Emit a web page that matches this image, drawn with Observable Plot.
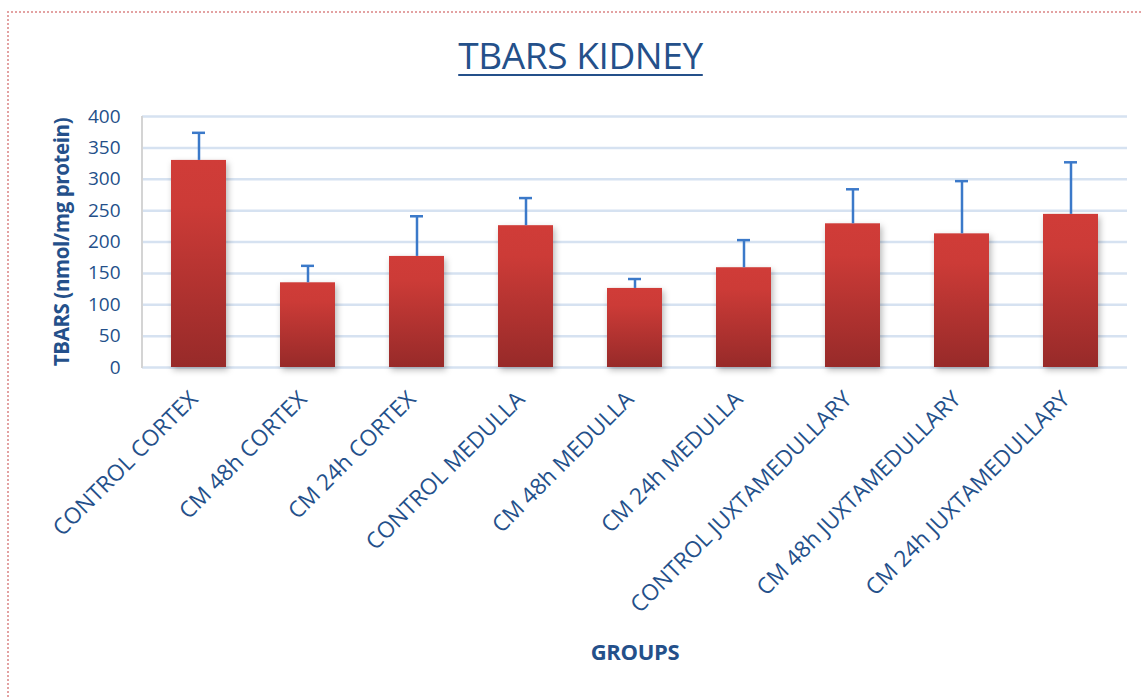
<!DOCTYPE html>
<html>
<head>
<meta charset="utf-8">
<script src="https://cdn.jsdelivr.net/npm/d3@7"></script>
<script src="https://cdn.jsdelivr.net/npm/@observablehq/plot@0.6"></script>
<style>
  body { margin: 0; background: #fff; }
  #wrap { position: relative; width: 1143px; height: 697px; overflow: hidden; font-family: "Open Sans", sans-serif; }
  #border { position: absolute; left: 7px; top: 11px; width: 1200px; height: 800px;
            border-top: 2px dotted #e3a2a2; border-left: 2px dotted #e3a2a2; }
  #title { position: absolute; left: 0; top: 0; width: 1143px; height: 100px; text-align: center; }
  #title span { position: absolute; left: 18px; right: 0; top: 33px; font-size: 37px; line-height: 1.2; color: #24508a;
                text-decoration: underline; text-decoration-thickness: 2px; text-underline-offset: 5px; letter-spacing: -0.4px; }
  #chart { position: absolute; left: 0; top: 100px; }
  g[aria-label="bar"] rect { filter: drop-shadow(2px 3px 3px rgba(0,0,0,0.28)); }
</style>
</head>
<body>
<div id="wrap">
  <div id="border"></div>
  <div id="title"><span>TBARS KIDNEY</span></div>
  <div id="chart"></div>
</div>
<script>
const groups = ["CONTROL CORTEX", "CM 48h CORTEX", "CM 24h CORTEX", "CONTROL MEDULLA", "CM 48h MEDULLA",
                "CM 24h MEDULLA", "CONTROL JUXTAMEDULLARY", "CM 48h JUXTAMEDULLARY", "CM 24h JUXTAMEDULLARY"];
const means = [330, 135, 177, 226, 126, 159, 229, 213, 244];
const errors = [44, 27, 64, 44, 15, 44, 55, 84, 83];
const yTicks = [0, 50, 100, 150, 200, 250, 300, 350, 400];

const data = groups.map((g, i) => ({group: g, mean: means[i], err: errors[i], top: means[i] + errors[i]}));

const textColor = "#24508a";

function decor(index, scales, values, dimensions) {
  const g = d3.create("svg:g");
  const defs = g.append("defs");
  const grad = defs.append("linearGradient").attr("id", "barGrad")
    .attr("x1", 0).attr("y1", 0).attr("x2", 0).attr("y2", 1);
  grad.append("stop").attr("offset", "0%").attr("stop-color", "#d03c38");
  grad.append("stop").attr("offset", "22%").attr("stop-color", "#cc3b37");
  grad.append("stop").attr("offset", "100%").attr("stop-color", "#972a29");
  const {marginLeft, marginTop, height, marginBottom} = dimensions;
  g.append("line")
    .attr("x1", marginLeft).attr("x2", marginLeft)
    .attr("y1", marginTop).attr("y2", height - marginBottom + 1)
    .attr("stroke", "#d4d4d4").attr("stroke-width", 2);
  return g.node();
}

const chart = Plot.plot({
  width: 1143,
  height: 597,
  marginLeft: 142,
  marginRight: 16,
  marginTop: 16,
  marginBottom: 330,
  style: {fontFamily: "Open Sans, sans-serif", color: textColor, background: "transparent", overflow: "visible"},
  x: {domain: groups, paddingInner: 0.5, paddingOuter: 0.25},
  y: {domain: [0, 400]},
  marks: [
    Plot.gridY(yTicks, {stroke: "#d6e2f1", strokeOpacity: 1, strokeWidth: 2.5}),
    decor,
    Plot.barY(data, {x: "group", y: "mean", fill: "url(#barGrad)"}),
    Plot.ruleX(data, {x: "group", y1: "mean", y2: "top", stroke: "#3b79c9", strokeWidth: 2.5}),
    Plot.tickY(data, {x: "group", y: "top", stroke: "#3b79c9", strokeWidth: 2.5, insetLeft: 21, insetRight: 21}),
    Plot.axisY(yTicks, {tickSize: 0, tickPadding: 22, fontSize: 19, label: "TBARS (nmol/mg protein)",
      labelAnchor: "center", labelArrow: false, labelOffset: 88}),
    Plot.axisX({tickSize: 0, tickRotate: -45, tickPadding: 28, dx: -5, fontSize: 22.5, label: null}),
    Plot.axisX({tickSize: 0, ticks: [], label: "GROUPS", labelAnchor: "center", labelArrow: false, labelOffset: 292})
  ]
});

d3.select(chart).selectAll('g[aria-label="y-axis label"] text')
  .style("font-weight", "bold").style("font-size", "20.5px").style("letter-spacing", "-0.4px");
d3.select(chart).selectAll('g[aria-label="x-axis label"] text')
  .style("font-weight", "bold").style("font-size", "22px").style("letter-spacing", "-0.3px");

document.getElementById("chart").appendChild(chart);
</script>
</body>
</html>
